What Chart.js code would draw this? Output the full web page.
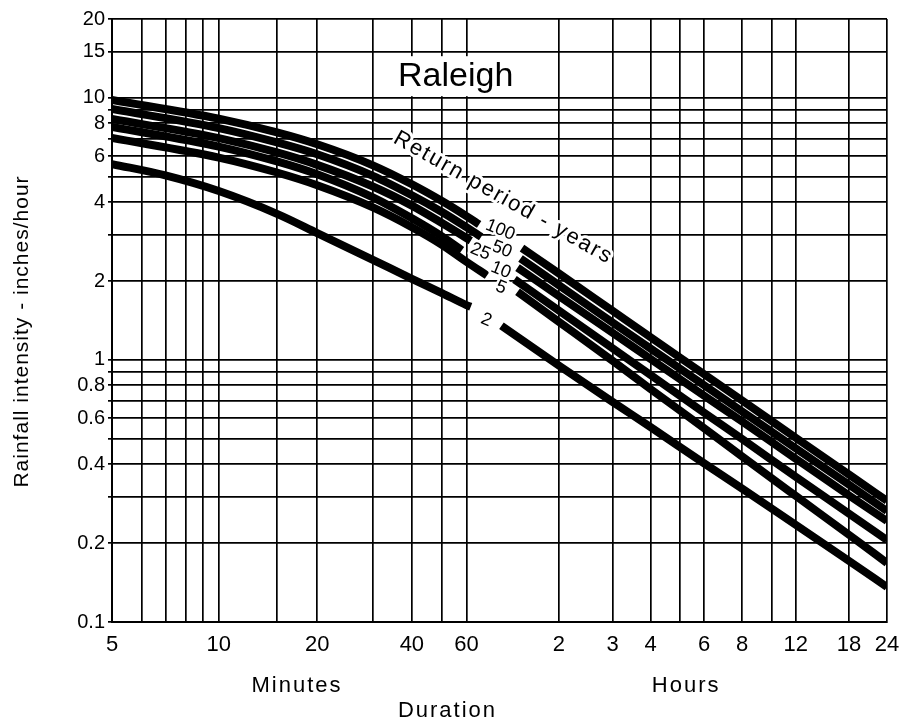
<!DOCTYPE html>
<html><head><meta charset="utf-8">
<script src="https://cdn.jsdelivr.net/npm/chart.js@4/dist/chart.umd.min.js"></script>
<style>html,body{margin:0;padding:0;background:#fff;}#wrap{width:903px;height:727px;}</style>
</head><body><div id="wrap"><canvas id="c" width="903" height="727"></canvas></div>
<script>
// ---- data (durations in minutes, intensities in inches/hour; null = label gap) ----
const returnPeriods = [100, 50, 25, 10, 5, 2];

const dur100 = [5,10,15,20,30,40,50,60,66,78,91,120,180,240,360,480,720,1080,1440];
const int100 = [9.82,8.33,7.38,6.65,5.53,4.68,4.04,3.54,3.29,null,2.67,2.14,1.54,1.22,0.882,0.700,0.505,0.365,0.290];

const dur50 = [5,10,15,20,30,40,50,60,67,78,90,120,180,240,360,480,720,1080,1440];
const int50 = [9.07,7.67,6.76,6.09,5.04,4.25,3.67,3.21,2.95,null,2.44,1.93,1.39,1.105,0.801,0.636,0.460,0.334,0.265];

const dur25 = [5,10,15,20,30,40,50,60,62,75,88,120,180,240,360,480,720,1080,1440];
const int25 = [8.31,7.02,6.19,5.55,4.59,3.88,3.33,2.92,2.85,null,2.25,1.755,1.27,1.008,0.730,0.582,0.420,0.304,0.243];

const dur10 = [5,10,15,20,30,40,50,58,72,86,120,180,240,360,480,720,1080,1440];
const int10 = [7.74,6.52,5.72,5.11,4.17,3.47,2.96,2.62,null,2.03,1.545,1.108,0.876,0.629,0.499,0.358,0.259,0.2055];

const dur5 = [5,10,15,20,30,40,50,60,70,80,88,120,180,240,360,480,720,1080,1440];
const int5 = [7.03,5.92,5.19,4.64,3.82,3.21,2.75,2.37,2.10,null,1.82,1.40,0.993,0.774,0.549,0.428,0.303,0.215,0.168];

const dur2 = [5,7,10,15,20,30,40,50,60,62,70,78,120,180,240,360,480,720,1080,1440];
const int2 = [5.59,5.06,4.41,3.61,3.05,2.41,2.04,1.80,1.62,1.595,null,1.35,0.953,0.692,0.554,0.403,0.323,0.235,0.171,0.136];

const seriesDurations = [dur100, dur50, dur25, dur10, dur5, dur2];
const seriesIntensities = [int100, int50, int25, int10, int5, int2];

const xGridMinutes = [5,6,7,8,9,10,15,20,30,40,50,60,120,180,240,300,360,480,600,720,1080,1440];
const xTickLabels = ['5','','','','','10','','20','','40','','60','2','3','4','','6','8','','12','18','24'];
const yGridValues = [0.1,0.2,0.3,0.4,0.5,0.6,0.7,0.8,0.9,1,2,3,4,5,6,7,8,9,10,15,20];
const yTickLabels = ['0.1','0.2','','0.4','','0.6','','0.8','','1','2','','4','','6','','8','','10','15','20'];

// duration axis of the original chart: logarithmic in (t - 1) minutes
const toAxis = t => Math.log10(t - 1);

const FONT = "'Liberation Sans', Arial, sans-serif";

const datasets = returnPeriods.map((rp, k) => ({
  label: rp + '-year',
  data: seriesDurations[k].map((t, i) => ({ x: toAxis(t), y: seriesIntensities[k][i] })),
  borderColor: '#000',
  backgroundColor: '#000',
  borderWidth: 8,
  borderCapStyle: 'butt',
  borderJoinStyle: 'round',
  pointRadius: 0,
  pointHoverRadius: 0,
  fill: false,
  spanGaps: false,
  cubicInterpolationMode: 'monotone'
}));

// text annotations, anchored in data coordinates (minutes, in/hr)
const curveLabelAnchors = [[77.3,3.13],[78.3,2.64],[66.6,2.59],[77.7,2.20],[77.7,1.89],[69.6,1.42]];

function haloText(ctx, text, x, y, rot, font, halo, spacing) {
  ctx.save();
  ctx.translate(x, y);
  ctx.rotate(rot * Math.PI / 180);
  ctx.font = font;
  if (spacing) { try { ctx.letterSpacing = spacing + 'px'; } catch (e) {} }
  ctx.textAlign = 'center';
  ctx.textBaseline = 'middle';
  if (halo) {
    ctx.lineWidth = halo;
    ctx.lineJoin = 'round';
    ctx.strokeStyle = '#fff';
    ctx.strokeText(text, 0, 0);
  }
  ctx.fillStyle = '#000';
  ctx.fillText(text, 0, 0);
  ctx.restore();
}

const annotations = {
  id: 'annotations',
  afterDatasetsDraw(chart) {
    const ctx = chart.ctx, xs = chart.scales.x, ys = chart.scales.y, ca = chart.chartArea;
    const px = t => xs.getPixelForValue(toAxis(t));
    const py = v => ys.getPixelForValue(v);
    // title inside the plot, on a white patch
    ctx.save();
    ctx.font = '34px ' + FONT;
    const tx = px(55.4), ty = py(12.1);
    const w = ctx.measureText('Raleigh').width;
    ctx.fillStyle = '#fff';
    ctx.fillRect(tx - w / 2 - 6, ty - 20, w + 12, 40);
    ctx.restore();
    haloText(ctx, 'Raleigh', tx, ty, 0, '34px ' + FONT, 0);
    // curve labels
    returnPeriods.forEach((rp, k) => {
      const a = curveLabelAnchors[k];
      haloText(ctx, String(rp), px(a[0]), py(a[1]), 22, '18px ' + FONT, 5);
    });
    haloText(ctx, 'Return period - years', px(79.1), py(4.15), 29.5, '22px ' + FONT, 6, 2);
    // axis texts
    haloText(ctx, 'Minutes', px(17.3), ca.bottom + 64, 0, '22px ' + FONT, 0, 2);
    haloText(ctx, 'Hours', px(314), ca.bottom + 64, 0, '22px ' + FONT, 0, 2);
    haloText(ctx, 'Duration', (ca.left + ca.right) / 2 - 52, ca.bottom + 89, 0, '22px ' + FONT, 0, 2);
    haloText(ctx, 'Rainfall intensity - inches/hour', 22, (ca.top + ca.bottom) / 2 + 11, -90, '21px ' + FONT, 0, 1);
  }
};

const whiteBg = {
  id: 'whiteBg',
  beforeDraw(chart) {
    const ctx = chart.ctx;
    ctx.save();
    ctx.fillStyle = '#fff';
    ctx.fillRect(0, 0, chart.width, chart.height);
    ctx.restore();
  }
};

new Chart(document.getElementById('c'), {
  type: 'line',
  data: { datasets },
  options: {
    responsive: false,
    animation: false,
    devicePixelRatio: 1,
    layout: { padding: { left: 0, right: 16, top: 19, bottom: 0 } },
    plugins: { legend: { display: false }, tooltip: { enabled: false }, title: { display: false } },
    scales: {
      x: {
        type: 'linear',
        min: toAxis(5),
        max: toAxis(1440),
        afterFit(scale) { scale.height = 105; scale.paddingLeft = 0; scale.paddingRight = 0; },
        afterBuildTicks(scale) { scale.ticks = xGridMinutes.map(t => ({ value: toAxis(t) })); },
        grid: { color: '#000', lineWidth: 1.7, drawTicks: false },
        border: { display: true, color: '#000', width: 2 },
        ticks: {
          autoSkip: false, maxRotation: 0, minRotation: 0, padding: 10,
          color: '#000', font: { family: FONT, size: 22 },
          callback: (v, i) => xTickLabels[i]
        }
      },
      y: {
        type: 'logarithmic',
        min: 0.1,
        max: 20,
        afterFit(scale) { scale.width = 112; scale.paddingTop = 0; scale.paddingBottom = 0; },
        afterBuildTicks(scale) { scale.ticks = yGridValues.map(v => ({ value: v })); },
        grid: { color: '#000', lineWidth: 1.7, drawTicks: true, tickLength: 4 },
        border: { display: true, color: '#000', width: 2 },
        ticks: {
          autoSkip: false, padding: 3,
          color: '#000', font: { family: FONT, size: 20 },
          callback: (v, i) => yTickLabels[i]
        }
      }
    }
  },
  plugins: [whiteBg, annotations]
});
</script>
</body></html>
